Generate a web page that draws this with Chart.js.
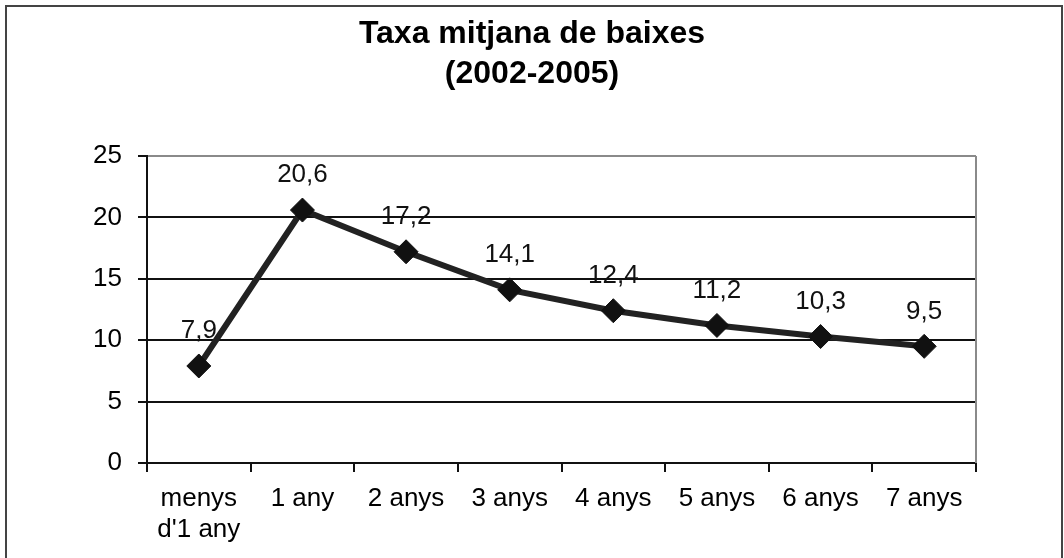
<!DOCTYPE html>
<html>
    <head>
        <title>Taxa mitjana de baixes</title>
        <script src="https://cdn.jsdelivr.net/npm/chart.js"></script>
        <style>
            html, body { margin: 0; padding: 0; background: #fff; }
            #wrap { width: 1064px; height: 558px; }
        </style>
    </head>
    <body>
        <div id="wrap">
            <canvas id="grafica"></canvas>
        </div>
    <script>
        // Dades del gràfic
        const categories = [['menys', "d'1 any"], '1 any', '2 anys', '3 anys', '4 anys', '5 anys', '6 anys', '7 anys'];
        const taxaBaixes = [7.9, 20.6, 17.2, 14.1, 12.4, 11.2, 10.3, 9.5];
        const ticksY = [0, 5, 10, 15, 20, 25];

        const font = 'Liberation Sans, Arial, sans-serif';

        // Marc exterior, vora dreta gris i etiquetes de valor
        const extres = {
            id: 'extres',
            beforeDraw(chart) {
                const ctx = chart.ctx;
                ctx.save();
                ctx.fillStyle = '#fff';
                ctx.fillRect(0, 0, chart.width, chart.height);
                ctx.strokeStyle = '#444';
                ctx.lineWidth = 2;
                ctx.strokeRect(6, 6, chart.width - 8, chart.height + 10);
                ctx.restore();
            },
            afterDatasetsDraw(chart) {
                const ctx = chart.ctx;
                const area = chart.chartArea;
                ctx.save();
                ctx.strokeStyle = '#8a8a8a';
                ctx.lineWidth = 2;
                ctx.beginPath();
                ctx.moveTo(area.right, area.top);
                ctx.lineTo(area.right, area.bottom);
                ctx.stroke();

                ctx.fillStyle = '#111';
                ctx.font = '26px ' + font;
                ctx.textAlign = 'center';
                ctx.textBaseline = 'middle';
                chart.getDatasetMeta(0).data.forEach(function (p, i) {
                    const txt = taxaBaixes[i].toString().replace('.', ',');
                    ctx.fillText(txt, p.x, p.y - 35);
                });
                ctx.restore();
            }
        };

        const config = {
            type: 'line',
            data: {
                labels: categories,
                datasets: [{
                    data: taxaBaixes,
                    borderColor: '#222',
                    borderWidth: 6,
                    pointStyle: 'rectRot',
                    pointRadius: 12,
                    pointBackgroundColor: '#111',
                    pointBorderColor: '#111',
                    pointBorderWidth: 1,
                    tension: 0,
                    fill: false
                }]
            },
            options: {
                responsive: true,
                maintainAspectRatio: false,
                animation: false,
                layout: { padding: { left: 88, right: 88, top: 0, bottom: 0 } },
                plugins: {
                    legend: { display: false },
                    tooltip: { enabled: false },
                    title: {
                        display: true,
                        text: ['Taxa mitjana de baixes', '(2002-2005)'],
                        color: '#000',
                        font: { family: font, size: 32, weight: 'bold', lineHeight: 40 / 32 },
                        padding: { top: 14, bottom: 62 }
                    }
                },
                scales: {
                    x: {
                        offset: true,
                        afterFit(scale) { scale.height = 95; },
                        grid: {
                            offset: true,
                            drawOnChartArea: false,
                            drawTicks: true,
                            tickLength: 9,
                            color: '#111',
                            lineWidth: 2
                        },
                        border: { color: '#111', width: 2 },
                        ticks: {
                            color: '#000',
                            padding: 11,
                            font: { family: font, size: 26, lineHeight: 1.2 },
                            maxRotation: 0,
                            autoSkip: false
                        }
                    },
                    y: {
                        min: ticksY[0],
                        max: ticksY[ticksY.length - 1],
                        afterFit(scale) { scale.width = 59; },
                        afterBuildTicks(scale) {
                            scale.ticks = ticksY.map(function (v) { return { value: v }; });
                        },
                        grid: {
                            color: function (c) { return c.tick && c.tick.value === 25 ? '#8a8a8a' : '#111'; },
                            tickColor: '#111',
                            lineWidth: 2,
                            tickLength: 9
                        },
                        border: { color: '#111', width: 2 },
                        ticks: {
                            color: '#000',
                            padding: 16,
                            font: { family: font, size: 26 }
                        }
                    }
                }
            },
            plugins: [extres]
        };

        const grafica = new Chart(document.getElementById('grafica'), config);
    </script>
</body>
</html>
